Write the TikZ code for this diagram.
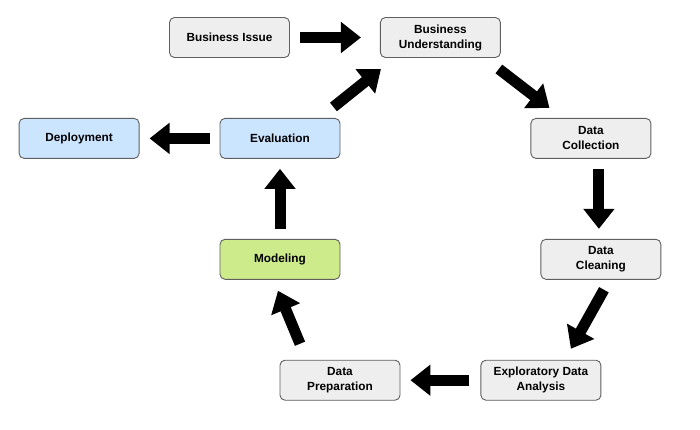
\documentclass[tikz,border=0pt]{standalone}
\usepackage{fontspec}
\setmainfont{Liberation Sans}
\usepackage{tikz}
\usetikzlibrary{positioning}
\usetikzlibrary{arrows.meta}
\definecolor{boxgray}{HTML}{EEEEEE}
\definecolor{boxblue}{HTML}{CCE5FF}
\definecolor{boxgreen}{HTML}{CDEB8B}
\definecolor{boxline}{HTML}{5F5F5F}
\tikzset{basic/.style={draw=boxline,line width=0.9pt,rounded corners=5pt,minimum width=120pt,minimum height=40pt,align=center,font=\fontsize{11.8}{15}\selectfont\bfseries,fill=boxgray}}
\tikzset{phase/.style={basic}}
\tikzset{deploy/.style={basic,fill=boxblue}}
\tikzset{model/.style={basic,fill=boxgreen}}
\tikzset{flow/.style={line width=11pt,-{Triangle[width=30pt,length=20pt]}}}

\begin{document}
\begin{tikzpicture}[x=1pt,y=-1pt]
        \useasboundingbox (0,0) rectangle (700,429);
        \node[phase] (issue) at (229.5,37.5) {Business Issue};
        \node[phase,right=90pt of issue] (understand) {Business\\Understanding};
        \node[deploy,below=60pt of issue,xshift=50.5pt] (eval) {Evaluation};
        \node[deploy,left=80pt of eval] (deploy) {Deployment};
        \node[phase,right=190pt of eval] (collect) {Data\\Collection};
        \node[model,below=80pt of eval] (model) {Modeling};
        \node[phase,below=80pt of collect,xshift=10pt] (clean) {Data\\Cleaning};
        \node[phase,below=80pt of model,xshift=60pt] (prep) {Data\\Preparation};
        \node[phase,right=80pt of prep] (explore) {Exploratory Data\\Analysis};
            \path[draw,flow] ([shift={(10,0)}]issue.east) -- ([shift={(-19,0)}]understand.west);
            \path[draw,flow] ([shift={(-2,11)}]understand.south east) -- ([shift={(19,-10)}]collect.north west);
            \path[draw,flow] ([shift={(8,10)}]collect.south) -- ([shift={(-2,-10)}]clean.north);
            \path[draw,flow] ([shift={(3,10)}]clean.south) -- ([shift={(30,-11)}]explore.north);
            \path[draw,flow] ([shift={(-11,0)}]explore.west) -- ([shift={(10,0)}]prep.east);
            \path[draw,flow] ([shift={(-40,-16)}]prep.north) -- ([shift={(-2,11)}]model.south);
            \path[draw,flow] ([shift={(0,-10)}]model.north) -- ([shift={(0,10)}]eval.south);
            \path[draw,flow] ([shift={(-7,-11)}]eval.north east) -- ([shift={(1,11)}]understand.south west);
            \path[draw,flow] ([shift={(-10,0)}]eval.west) -- ([shift={(10,0)}]deploy.east);
\end{tikzpicture}
\end{document}
